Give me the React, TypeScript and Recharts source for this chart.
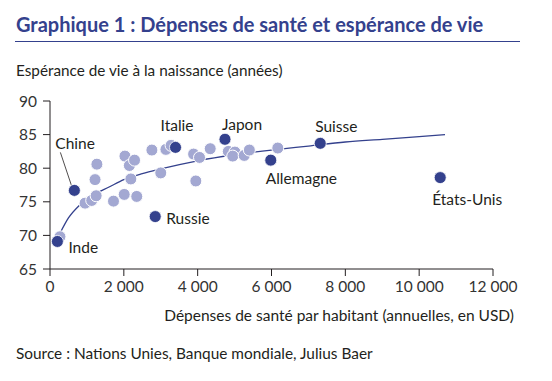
import { ComposedChart, Scatter, Line, XAxis, YAxis } from 'recharts';

const FONT = 'Lato, "Open Sans", sans-serif';
const NAVY = '#34418d';
const LIGHT = '#a3a8d2';
const INK = '#231f20';

// highlighted countries: health spending per capita (USD) vs life expectancy
const countries = ['Inde', 'Chine', 'Russie', 'Italie', 'Japon', 'Allemagne', 'Suisse', 'États-Unis'];
const countrySpend = [200, 660, 2850, 3400, 4740, 5980, 7320, 10570];
const countryLife = [69.1, 76.7, 72.8, 83.1, 84.3, 81.2, 83.7, 78.6];

// other countries (unlabelled)
const otherSpend = [270, 950, 1130, 1250, 1270, 1220, 1720, 2010, 2350, 2030, 2150, 2290, 2190, 2760, 3000, 3140, 3280, 3890, 4050, 4340, 3950, 4830, 5010, 4950, 5260, 5400, 6170];
const otherLife = [69.8, 74.8, 75.2, 75.9, 80.6, 78.3, 75.1, 76.1, 75.8, 81.8, 80.4, 81.2, 78.4, 82.7, 79.3, 82.8, 83.4, 82.1, 81.6, 82.9, 78.1, 82.5, 82.4, 81.8, 81.9, 82.7, 83.0];

// fitted curve
const trendSpend = [270, 500, 800, 1200, 1600, 2000, 2500, 3000, 4000, 5000, 6000, 7000, 8000, 9000, 10000, 10700];
const trendLife = [70.3, 72.6, 74.5, 76.1, 77.2, 78.3, 79.2, 79.9, 81.1, 82.0, 82.7, 83.3, 83.9, 84.3, 84.7, 85.0];

const xTicks = [0, 2000, 4000, 6000, 8000, 10000, 12000];
const yTicks = [65, 70, 75, 80, 85, 90];

const highlighted = countries.map((name, i) => ({ name, x: countrySpend[i], y: countryLife[i] }));
const others = otherSpend.map((x, i) => ({ x, y: otherLife[i] }));
const trend = trendSpend.map((x, i) => ({ x, y: trendLife[i] }));

// label placement relative to the dot
const labelPos: Record<string, { dx: number; dy: number }> = {
  Inde: { dx: 11, dy: 6 },
  Chine: { dx: -19, dy: -47 },
  Russie: { dx: 11, dy: 1 },
  Italie: { dx: -15, dy: -22 },
  Japon: { dx: -3, dy: -15 },
  Allemagne: { dx: -5, dy: 18 },
  Suisse: { dx: -5, dy: -17 },
  'États-Unis': { dx: -8, dy: 21 },
};

const fmt = (v: number) => (v >= 1000 ? `${Math.floor(v / 1000)} ${String(v % 1000).padStart(3, '0')}` : String(v));

function LightDot(props: any) {
  const { cx, cy } = props;
  return <circle cx={cx} cy={cy} r={6} fill={LIGHT} stroke="#fff" strokeWidth={1} />;
}

function CountryDot(props: any) {
  const { cx, cy, payload } = props;
  const p = labelPos[payload.name];
  return (
    <g>
      {payload.name === 'Chine' && (
        <line x1={cx - 2.6} y1={cy - 4} x2={cx - 14} y2={cy - 38} stroke={INK} strokeWidth={0.8} />
      )}
      <circle cx={cx} cy={cy} r={6} fill={NAVY} stroke="#fff" strokeWidth={0.8} />
      <text
        x={cx + p.dx}
        y={cy + p.dy}
        dominantBaseline="central"
        fontFamily={FONT}
        fontSize={15.5}
        fill={INK}
      >
        {payload.name}
      </text>
    </g>
  );
}

export default function App() {
  return (
    <div style={{ position: 'absolute', left: 0, top: 0, width: 552, height: 381, background: '#fff', fontFamily: FONT }}>
      <div style={{ position: 'absolute', left: 16, top: 12, fontSize: 20, lineHeight: '24px', fontWeight: 700, color: NAVY, whiteSpace: 'nowrap' }}>
        Graphique 1 : Dépenses de santé et espérance de vie
      </div>
      <div style={{ position: 'absolute', left: 15, top: 40.5, width: 505, height: 1.5, background: NAVY }} />
      <div style={{ position: 'absolute', left: 16, top: 61, fontSize: 15.3, lineHeight: '18px', color: INK, whiteSpace: 'nowrap' }}>
        Espérance de vie à la naissance (années)
      </div>
      <ComposedChart
        width={552}
        height={381}
        margin={{ top: 101, right: 59, bottom: 82, left: 10 }}
        style={{ position: 'absolute', left: 0, top: 0 }}
      >
        <XAxis
          type="number"
          dataKey="x"
          domain={[0, 12000]}
          ticks={xTicks}
          tickFormatter={fmt}
          height={30}
          tickSize={7}
          tickMargin={5}
          stroke={INK}
          tick={{ fill: '#333', fontSize: 15.5, fontFamily: FONT }}
        />
        <YAxis
          type="number"
          dataKey="y"
          domain={[65, 90]}
          ticks={yTicks}
          width={40}
          tickSize={7}
          tickMargin={6}
          stroke={INK}
          tick={{ fill: '#333', fontSize: 15.5, fontFamily: FONT }}
        />
        <Scatter data={others} shape={<LightDot />} isAnimationActive={false} />
        <Line
          data={trend}
          dataKey="y"
          type="monotone"
          stroke={NAVY}
          strokeWidth={1.3}
          dot={false}
          activeDot={false}
          isAnimationActive={false}
        />
        <Scatter data={highlighted} shape={<CountryDot />} isAnimationActive={false} />
      </ComposedChart>
      <div style={{ position: 'absolute', right: 38, top: 306, fontSize: 15.5, lineHeight: '18px', color: INK, whiteSpace: 'nowrap' }}>
        Dépenses de santé par habitant (annuelles, en USD)
      </div>
      <div style={{ position: 'absolute', left: 16, top: 344, fontSize: 15.4, lineHeight: '18px', color: INK, whiteSpace: 'nowrap' }}>
        Source : Nations Unies, Banque mondiale, Julius Baer
      </div>
    </div>
  );
}
